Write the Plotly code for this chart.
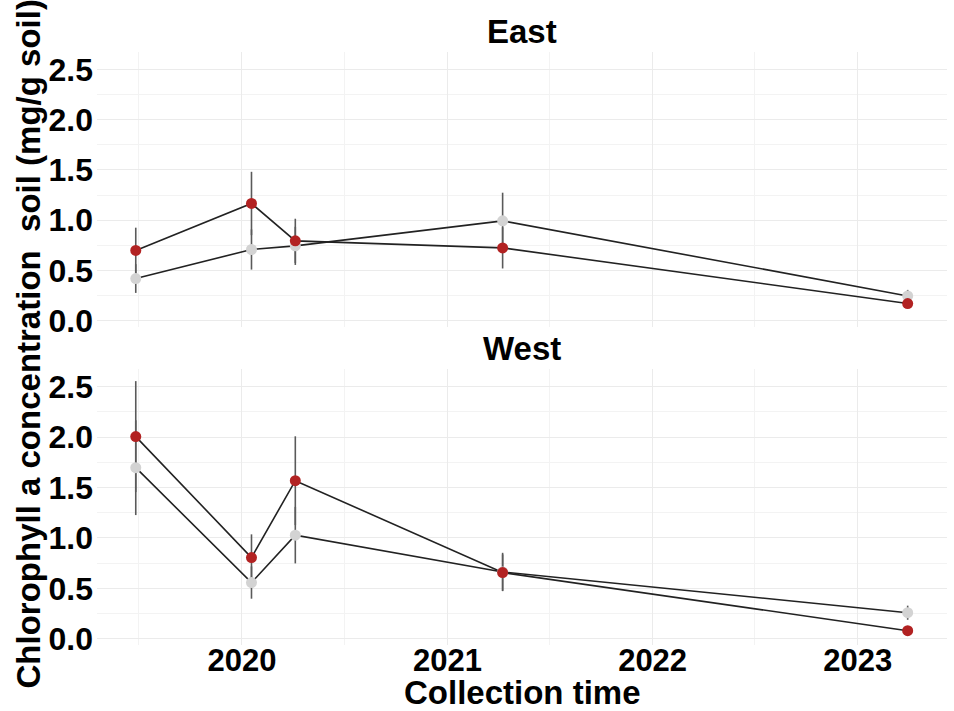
import plotly.graph_objects as go
from plotly.subplots import make_subplots

dates = ["2019-06-26", "2020-01-18", "2020-04-05", "2021-04-09", "2023-03-31"]
panels = ["East", "West"]

east_red = [0.70, 1.167, 0.795, 0.725, 0.171]
east_red_err = [0.226, 0.315, 0.22, 0.205, 0.02]
east_gray = [0.42, 0.709, 0.745, 0.994, 0.247]
east_gray_err = [0.143, 0.20, 0.19, 0.28, 0.06]

west_red = [2.004, 0.805, 1.567, 0.656, 0.08]
west_red_err = [0.55, 0.23, 0.44, 0.18, 0.02]
west_gray = [1.696, 0.557, 1.027, 0.662, 0.258]
west_gray_err = [0.47, 0.16, 0.28, 0.19, 0.07]

RED = "#B22222"
GRAY = "#D3D3D3"
FONT = "Liberation Sans"

fig = make_subplots(rows=2, cols=1, shared_xaxes=False)

data = [
    (1, [(east_gray, east_gray_err, GRAY, "Gray"), (east_red, east_red_err, RED, "Red")]),
    (2, [(west_gray, west_gray_err, GRAY, "Gray"), (west_red, west_red_err, RED, "Red")]),
]

for row, series in data:
    for vals, errs, col, name in series:
        fig.add_trace(go.Scatter(
            x=dates, y=vals, mode="markers",
            marker=dict(size=1, opacity=0),
            error_y=dict(type="data", array=errs, visible=True, width=0,
                         thickness=1.6, color="#5a5a5a"),
            showlegend=False, hoverinfo="skip"), row=row, col=1)
    for vals, errs, col, name in series:
        fig.add_trace(go.Scatter(
            x=dates, y=vals, mode="lines",
            line=dict(color="#222222", width=1.6),
            showlegend=False), row=row, col=1)
    for vals, errs, col, name in series:
        fig.add_trace(go.Scatter(
            x=dates, y=vals, mode="markers",
            marker=dict(size=11, color=col),
            name=name, showlegend=False), row=row, col=1)

xcommon = dict(
    type="date", range=["2019-04-18", "2023-06-09"],
    dtick="M12", tick0="2020-01-01", tickformat="%Y",
    showgrid=True, gridcolor="#EBEBEB", gridwidth=1,
    minor=dict(dtick="M6", tick0="2019-07-01", showgrid=True, gridcolor="#F3F3F3", gridwidth=1),
    zeroline=False, showline=False, ticks="", automargin=False,
    ticklabelstandoff=-6,
    tickfont=dict(family=FONT, size=31, color="black", weight="bold"),
)
ycommon = dict(
    range=[-0.062, 2.674], dtick=0.5, tick0=0, tickformat=".1f",
    showgrid=True, gridcolor="#EBEBEB", gridwidth=1,
    minor=dict(dtick=0.25, showgrid=True, gridcolor="#F3F3F3", gridwidth=1),
    zeroline=False, showline=False, ticks="", automargin=False,
    ticklabelstandoff=3,
    tickfont=dict(family=FONT, size=32, color="black", weight="bold"),
)

fig.update_xaxes(**xcommon)
fig.update_yaxes(**ycommon)
fig.update_layout(
    xaxis=dict(domain=[0, 1], showticklabels=False, anchor="y"),
    yaxis=dict(domain=[0.5363, 1.0]),
    xaxis2=dict(domain=[0, 1], anchor="y2"),
    yaxis2=dict(domain=[0.0, 0.4654]),
)

fig.update_layout(
    width=954, height=711,
    margin=dict(l=97, r=7, t=52, b=66),
    plot_bgcolor="white", paper_bgcolor="white",
    showlegend=False,
    font=dict(family=FONT, color="black"),
    annotations=[
        dict(text="<b>East</b>", x=0.5, xref="paper", y=1.0, yref="paper",
             yanchor="bottom", yshift=0, showarrow=False,
             font=dict(family=FONT, size=33, color="black")),
        dict(text="<b>West</b>", x=0.5, xref="paper", y=0.4654, yref="paper",
             yanchor="bottom", yshift=0, showarrow=False,
             font=dict(family=FONT, size=33, color="black")),
        dict(text="<b>Chlorophyll a concentration  soil (mg/g soil)</b>",
             x=0, xref="paper", xanchor="center", xshift=-69,
             y=0.5, yref="paper", yanchor="middle", yshift=4,
             textangle=-90, showarrow=False,
             font=dict(family=FONT, size=33, color="black")),
        dict(text="<b>Collection time</b>", x=0.5, xref="paper",
             y=0, yref="paper", yanchor="middle", yshift=-47, showarrow=False,
             font=dict(family=FONT, size=33, color="black")),
    ],
)

fig.write_html("out.html", config={"displayModeBar": False},
               post_script="document.body.style.margin='0';document.body.style.overflow='hidden';")
